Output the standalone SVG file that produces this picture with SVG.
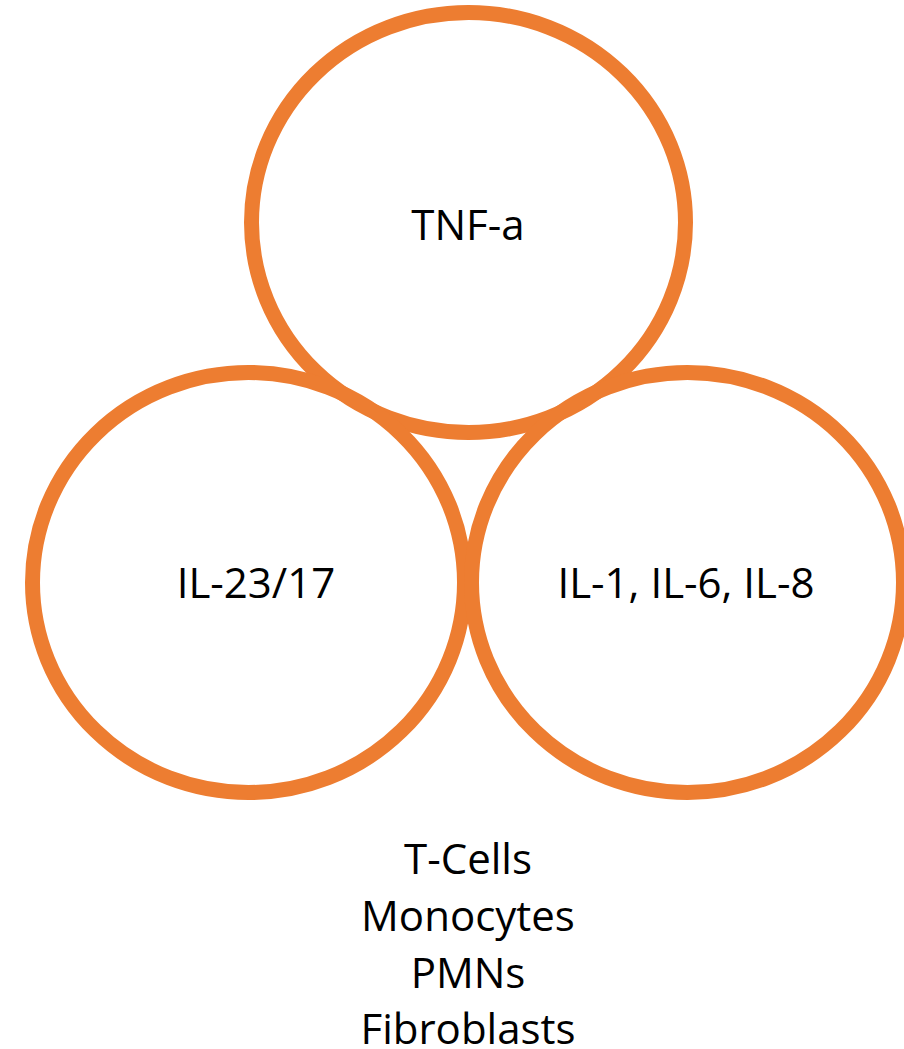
<svg xmlns="http://www.w3.org/2000/svg" width="904" height="1049" viewBox="0 0 904 1049">
<style>
.ring{fill:none;stroke:#ED7D31;stroke-width:15}
.lbl{font-family:"Open Sans","Liberation Sans",sans-serif;font-size:42px;fill:#000;text-anchor:middle}
</style>
<rect width="904" height="1049" fill="#fff"/>
<g id="node-tnf">
<ellipse class="ring" cx="468.5" cy="222.5" rx="217" ry="210"/>
<text class="lbl" x="468" y="240">TNF-a</text>
</g>
<g id="node-il23">
<ellipse class="ring" cx="248.5" cy="582.5" rx="216" ry="210"/>
<text class="lbl" x="256" y="598">IL-23/17</text>
</g>
<g id="node-il1">
<ellipse class="ring" cx="687.5" cy="582.5" rx="216" ry="210"/>
<text class="lbl" x="686" y="598">IL-1, IL-6, IL-8</text>
</g>
<g id="cells">
<text class="lbl" x="468" y="874">T-Cells</text>
<text class="lbl" x="468" y="931">Monocytes</text>
<text class="lbl" x="468" y="988">PMNs</text>
<text class="lbl" x="468" y="1044">Fibroblasts</text>
</g>
<g id="connectors"></g>
</svg>
